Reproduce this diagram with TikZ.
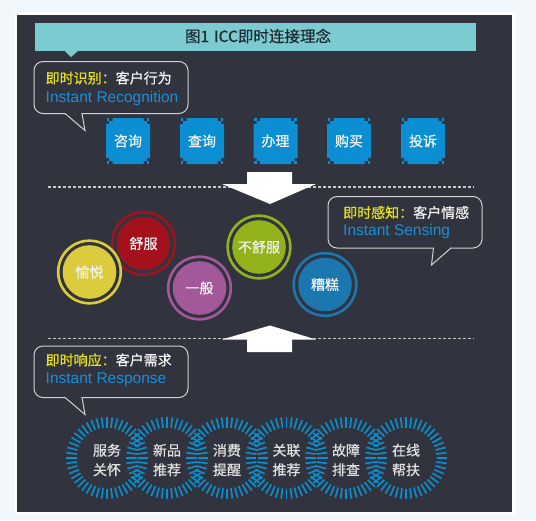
\documentclass[tikz,border=0pt]{standalone}
\usepackage{fontspec}
\setmainfont{Liberation Sans}
\newfontfamily\cjk{Noto Sans CJK SC}[FakeBold=0.7]
\usetikzlibrary{calc}
\definecolor{page}{HTML}{F2F7FB}
\definecolor{panel}{HTML}{31343F}
\definecolor{teal}{HTML}{7CCBD1}
\definecolor{titleink}{HTML}{1F2B33}
\definecolor{hilite}{HTML}{E6E01C}
\definecolor{cyanink}{HTML}{1A8FD6}
\definecolor{btnblue}{HTML}{0B8FD2}
\definecolor{ringblue}{HTML}{0A90D0}
\definecolor{softwhite}{HTML}{F2F2F2}
\definecolor{moodyellow}{HTML}{DCCB3C}
\definecolor{moodred}{HTML}{A3121C}
\definecolor{moodpurple}{HTML}{A3589A}
\definecolor{moodgreen}{HTML}{93B31C}
\definecolor{moodblue}{HTML}{1B77AE}
\tikzset{
  cn/.style={font=\cjk\fontsize{14}{16}\selectfont,text=softwhite,inner sep=0pt},
  en/.style={font=\fontsize{15.5}{17}\selectfont,text=cyanink,inner sep=0pt,anchor=west},
  bubble/.style={draw=black!18,line width=1pt,rounded corners=9pt},
  tail/.style={draw=black!18,line width=1pt,fill=panel,line join=miter},
  divider/.style={draw=black!22,dash pattern=on 3pt off 2pt,line width=1.1pt},
  blockarrow/.style={fill=white},
  tick/.style={draw=ringblue,line width=1.6pt},
  ringtext/.style={cn,align=center,text=black!12,font=\cjk\fontsize{14}{19.5}\selectfont}}
\begin{document}
\begin{tikzpicture}[x=1pt,y=-1pt]
\useasboundingbox (0,0) rectangle (536,520);
\fill[page] (0,0) rectangle (536,520);
\fill[white] (15,12) rectangle (515,514);
\fill[panel] (17,15) rectangle (512,512);
% title bar
\fill[teal] (35,23) rectangle (476,51);\fill[teal] (64,50) -- (79,50) -- (71,57) -- cycle;
\node[cn,text=titleink,font=\cjk\fontsize{15.5}{17}\selectfont] (title) at (258,36) {图1\hspace{5pt}ICC即时连接理念};
% recognition
\draw[bubble] (34,61.5) rectangle (188,113.5);\fill[panel] (65.6,111.5) rectangle (81.4,115.5);
\draw[tail] (65,113.5) -- (85,130.5) -- (82,113.5);
\node[cn,anchor=west] (recog) at (45.5,78) {\textcolor{hilite}{即时识别：}客户行为};
\node[en] (recogen) at (45.5,98.5) {Instant Recognition};
\foreach \bx/\bt [count=\i] in {128/咨询,202/查询,275.5/办理,349/购买,423/投诉}{
  \fill[btnblue] (\bx-22,124) rectangle (\bx+22,158) (\bx-19,121) rectangle (\bx+19,161) (\bx-15.5,118) rectangle (\bx+15.5,164);
  \foreach \dx in {-20,20}\foreach \dy in {-21.5,21.5}\fill[btnblue] (\bx+\dx-1.3,141+\dy-1.3) rectangle ++(2.6,2.6);
  \node[cn] (act\i) at (\bx,141) {\bt};}
% dividers and arrows
\draw[divider] (48,187) -- (474,187);\draw[divider] (48,338.5) -- (474,338.5);
\fill[blockarrow] (247,172) -- (292,172) -- (292,184) -- (316,184) -- (270,204) -- (222,184) -- (247,184) -- cycle;
\fill[blockarrow] (270,325.5) -- (316,339.5) -- (292,339.5) -- (292,352) -- (247,352) -- (247,339.5) -- (222,339.5) -- cycle;
% sensing
\foreach \nm/\mx/\my/\mc/\mt in {comfy/143.5/243.5/moodred/舒服,joy/89.5/272/moodyellow/愉悦,so/199.5/288/moodpurple/一般,uncomfy/259/247/moodgreen/不舒服,bad/325/284.5/moodblue/糟糕}{
  \fill[panel] (\mx,\my) circle (32.8);\draw[\mc,line width=2.6pt] (\mx,\my) circle (31.3);
  \fill[\mc] (\mx,\my) circle (26.8);\node[cn] (\nm) at (\mx,\my) {\mt};}
\draw[bubble] (328,196.5) rectangle (482,248);\fill[panel] (434.2,246) rectangle (450.2,250);
\draw[tail] (433.5,248) -- (431.5,265) -- (451,248);
\node[cn,anchor=west] (sense) at (343,212.5) {\textcolor{hilite}{即时感知：}客户情感};
\node[en] (senseen) at (343,231.5) {Instant Sensing};
% response
\draw[bubble] (34,346) rectangle (188,397.5);\fill[panel] (65.6,395.5) rectangle (81.4,399.5);
\draw[tail] (65,397.5) -- (85,414.5) -- (82,397.5);
\node[cn,anchor=west] (resp) at (45.5,360) {\textcolor{hilite}{即时响应：}客户需求};
\node[en] (respen) at (45.5,379.5) {Instant Response};
\foreach \rx/\rt [count=\i] in {107/服务\\关怀,167/新品\\推荐,227/消费\\提醒,286.5/关联\\推荐,346/故障\\排查,406/在线\\帮扶}{
  \begin{scope}[shift={(\rx,458)}]\foreach \a in {0,7.5,...,352.5}\draw[tick] (\a:30.5) -- (\a:41);\end{scope}
  \node[ringtext] (svc\i) at (\rx,460) {\rt};}
\end{tikzpicture}
\end{document}
